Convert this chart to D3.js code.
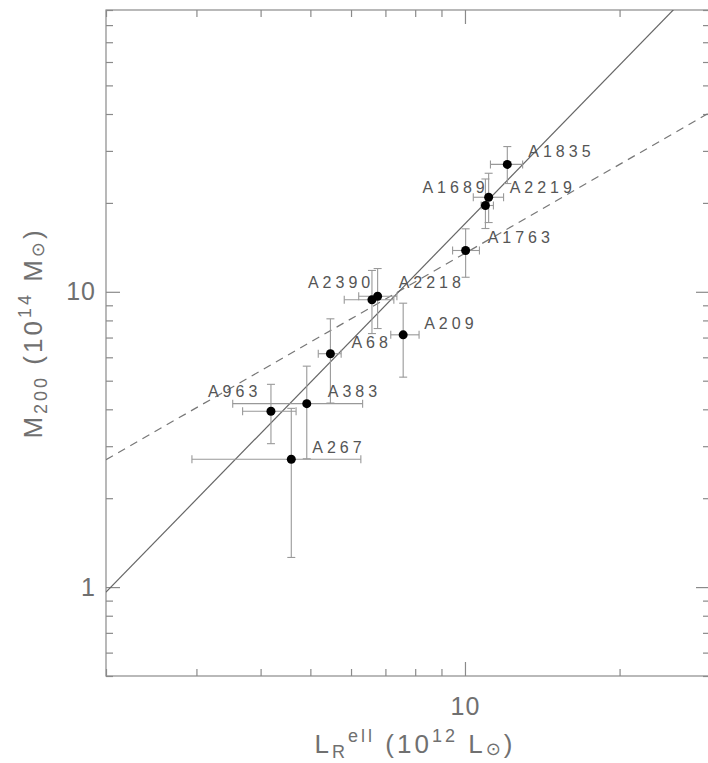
<!DOCTYPE html>
<html>
<head>
<meta charset="utf-8">
<script src="https://cdn.jsdelivr.net/npm/d3@7"></script>
<style>
  html, body { margin: 0; padding: 0; background: #fff; }
  svg { display: block; }
  text { font-family: "Liberation Sans", "DejaVu Sans", Arial, sans-serif; }
</style>
</head>
<body>
<div id="chart"></div>
<script>
// ---- data ----
const clusters = ["A963","A383","A267","A68","A2390","A2218","A209","A1763","A1689","A2219","A1835"];
const lum      = [4.19, 4.92, 4.59, 5.47, 6.59, 6.76, 7.58, 10.03, 10.96, 11.12, 12.09];
const lumLo    = [3.69, 3.53, 2.94, 5.18, 5.82, 6.21, 7.17,  9.46, 10.75, 10.38, 11.21];
const lumHi    = [4.69, 6.32, 6.27, 5.74, 7.27, 7.37, 8.14, 10.67, 11.36, 11.89, 12.95];
const mass     = [3.94, 4.18, 2.71, 6.17, 9.40, 9.66, 7.15, 13.8, 19.6, 20.9, 27.0];
const massLo   = [3.06, 2.72, 1.26, 4.20, 7.22, 7.51, 5.14, 11.20, 16.38, 17.16, 23.26];
const massHi   = [4.86, 5.60, 4.03, 8.10, 11.81, 11.99, 9.15, 16.34, 24.1, 25.20, 31.03];

// fitted relations M = norm * (L/10)^slope
const fitSolid  = { norm: 17.0, slope: 1.785 };
const fitDashed = { norm: 13.5, slope: 1.0 };

// axis ticks
const xMajorTicks = [10];
const xMinorTicks = [2, 3, 4, 5, 6, 7, 8, 9, 20, 30];
const yMajorTicks = [1, 10];
const yMinorTicks = [0.5, 0.6, 0.7, 0.8, 0.9, 2, 3, 4, 5, 6, 7, 8, 9, 20, 30, 40, 50, 60, 70, 80, 90];

// label offsets (layout, px)
const labelDx = [-63, 21, 21, 21, -64, 21, 21, 22, -63, 21, 21];
const labelDy = [-14, -7, -6, -6, -12, -8, -6, -7, -12, -4, -7];

// ---- layout ----
const W = 708, H = 763;
const L = 106, R = 710, T = 10, B = 676;
const frameColor = "#8a8a8a";
const textColor = "#707070";

const svg = d3.select("#chart").append("svg").attr("width", W).attr("height", H);

const x = d3.scaleLog().domain([2, 30]).range([L, R]);
const y = d3.scaleLog().domain([0.5, 90]).range([B, T]);

const defs = svg.append("defs");
defs.append("clipPath").attr("id", "plotclip")
  .append("rect").attr("x", L).attr("y", T).attr("width", R - L).attr("height", B - T);

// frame
svg.append("rect").attr("x", L).attr("y", T).attr("width", R - L).attr("height", B - T)
  .attr("fill", "none").attr("stroke", frameColor).attr("stroke-width", 1.2);

function styleAxis(g) {
  g.select(".domain").remove();
  g.selectAll(".tick line").attr("stroke", frameColor).attr("stroke-width", 1.2);
}

// bottom
svg.append("g").attr("transform", `translate(0,${B})`)
  .call(d3.axisBottom(x).tickValues(xMinorTicks).tickSize(-7).tickFormat(""))
  .call(styleAxis);
svg.append("g").attr("transform", `translate(0,${B})`)
  .call(d3.axisBottom(x).tickValues(xMajorTicks).tickSize(-14).tickPadding(21).tickFormat(d3.format("d")))
  .call(styleAxis)
  .call(g => g.selectAll("text").attr("fill", textColor).attr("font-size", 25).attr("letter-spacing", 1));
// top
svg.append("g").attr("transform", `translate(0,${T})`)
  .call(d3.axisTop(x).tickValues(xMinorTicks).tickSize(-7).tickFormat("")).call(styleAxis);
svg.append("g").attr("transform", `translate(0,${T})`)
  .call(d3.axisTop(x).tickValues(xMajorTicks).tickSize(-14).tickFormat("")).call(styleAxis);
// left
svg.append("g").attr("transform", `translate(${L},0)`)
  .call(d3.axisLeft(y).tickValues(yMinorTicks).tickSize(-7).tickFormat("")).call(styleAxis);
svg.append("g").attr("transform", `translate(${L},0)`)
  .call(d3.axisLeft(y).tickValues(yMajorTicks).tickSize(-14).tickPadding(10).tickFormat(d3.format("d")))
  .call(styleAxis)
  .call(g => g.selectAll("text").attr("fill", textColor).attr("font-size", 25).attr("letter-spacing", 1));
// right
svg.append("g").attr("transform", `translate(${R},0)`)
  .call(d3.axisRight(y).tickValues(yMinorTicks).tickSize(-7).tickFormat("")).call(styleAxis);
svg.append("g").attr("transform", `translate(${R},0)`)
  .call(d3.axisRight(y).tickValues(yMajorTicks).tickSize(-14).tickFormat("")).call(styleAxis);

// fit lines
const plot = svg.append("g").attr("clip-path", "url(#plotclip)");
const lineGen = d3.line().x(d => x(d[0])).y(d => y(d[1]));
function fitPts(f) {
  const [a, b] = x.domain();
  return [a, b].map(l => [l, f.norm * Math.pow(l / 10, f.slope)]);
}
plot.append("path").attr("d", lineGen(fitPts(fitDashed)))
  .attr("fill", "none").attr("stroke", "#777").attr("stroke-width", 1.2).attr("stroke-dasharray", "8,6");
plot.append("path").attr("d", lineGen(fitPts(fitSolid)))
  .attr("fill", "none").attr("stroke", "#666").attr("stroke-width", 1.2);

// error bars
const errColor = "#999";
const cap = 4;
const idx = d3.range(clusters.length);
const eb = plot.append("g").attr("stroke", errColor).attr("stroke-width", 1.1).attr("fill", "none");
idx.forEach(i => {
  const cx = x(lum[i]), cy = y(mass[i]);
  const x0 = x(lumLo[i]), x1 = x(lumHi[i]);
  const y0 = y(massLo[i]), y1 = y(massHi[i]);
  eb.append("line").attr("x1", x0).attr("x2", x1).attr("y1", cy).attr("y2", cy);
  eb.append("line").attr("x1", x0).attr("x2", x0).attr("y1", cy - cap).attr("y2", cy + cap);
  eb.append("line").attr("x1", x1).attr("x2", x1).attr("y1", cy - cap).attr("y2", cy + cap);
  eb.append("line").attr("x1", cx).attr("x2", cx).attr("y1", y0).attr("y2", y1);
  eb.append("line").attr("x1", cx - cap).attr("x2", cx + cap).attr("y1", y0).attr("y2", y0);
  eb.append("line").attr("x1", cx - cap).attr("x2", cx + cap).attr("y1", y1).attr("y2", y1);
});

// points
plot.append("g").selectAll("circle").data(idx).join("circle")
  .attr("cx", i => x(lum[i])).attr("cy", i => y(mass[i])).attr("r", 4.5).attr("fill", "#000");

// labels
svg.append("g").selectAll("text").data(idx).join("text")
  .attr("x", i => x(lum[i]) + labelDx[i])
  .attr("y", i => y(mass[i]) + labelDy[i])
  .attr("font-size", 16).attr("letter-spacing", 4).attr("fill", "#555")
  .text(i => clusters[i]);

// axis titles
const xt = svg.append("text").attr("x", 415).attr("y", 753).attr("text-anchor", "middle")
  .attr("fill", textColor).attr("font-size", 26).attr("letter-spacing", 3);
xt.append("tspan").text("L");
xt.append("tspan").attr("font-size", 18).attr("dy", 5).text("R");
xt.append("tspan").attr("font-size", 18).attr("dy", -16).text("ell");
xt.append("tspan").attr("dy", 11).text(" (10");
xt.append("tspan").attr("font-size", 18).attr("dy", -11).text("12");
xt.append("tspan").attr("dy", 11).text(" L");
xt.append("tspan").attr("font-size", 18).attr("dy", 2).text("⊙");
xt.append("tspan").attr("dy", -2).text(")");

const yt = svg.append("text").attr("transform", "translate(42,333) rotate(-90)").attr("text-anchor", "middle")
  .attr("fill", textColor).attr("font-size", 26).attr("letter-spacing", 3);
yt.append("tspan").text("M");
yt.append("tspan").attr("font-size", 18).attr("dy", 5).text("200");
yt.append("tspan").attr("dy", -5).text(" (10");
yt.append("tspan").attr("font-size", 18).attr("dy", -11).text("14");
yt.append("tspan").attr("dy", 11).text(" M");
yt.append("tspan").attr("font-size", 18).attr("dy", 2).text("⊙");
yt.append("tspan").attr("dy", -2).text(")");
</script>
</body>
</html>
